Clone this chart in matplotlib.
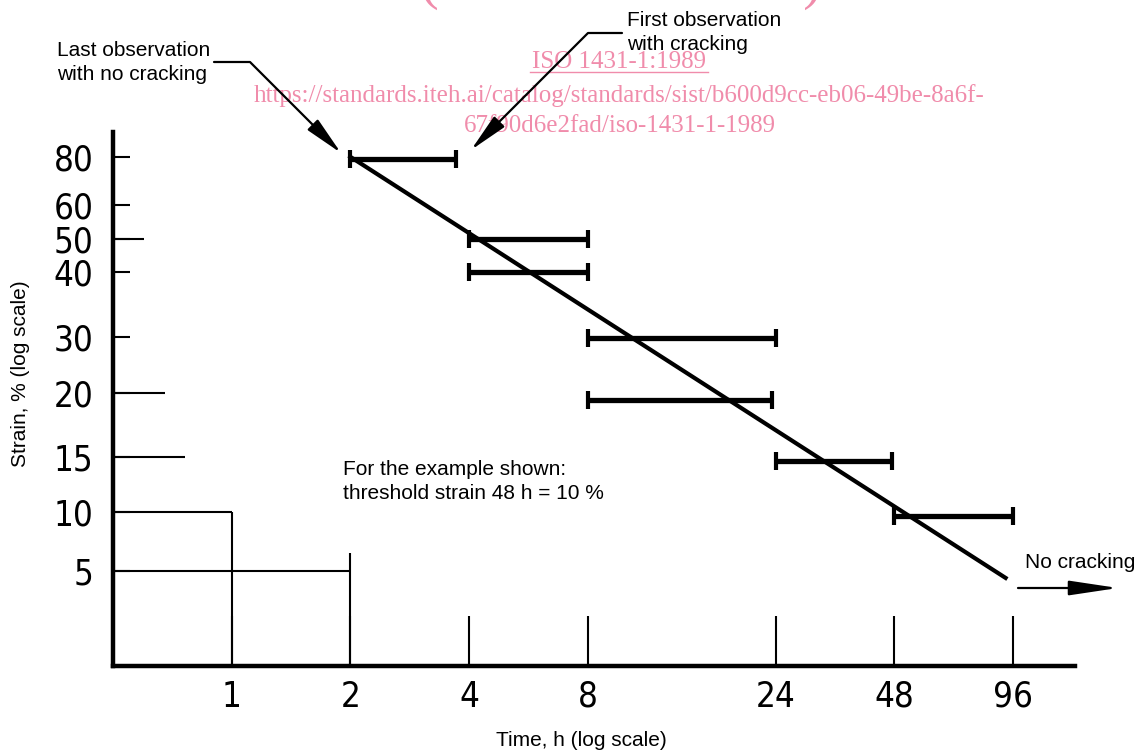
import numpy as np
import matplotlib.pyplot as plt
from matplotlib.ticker import NullLocator
from matplotlib.lines import Line2D

# observation intervals (strain %, time from - to, h)
bar_strain = [79, 50, 40, 29.7, 19.4, 14.6, 9.5]
bar_t_start = [2, 4, 4, 8, 8, 24, 48]
bar_t_end = [3.7, 8, 8, 24, 23.5, 47.5, 96]

# fitted threshold line
fit_time = [2, 92]
fit_strain = [80, 4.6]

# axis ticks
x_ticks = [1, 2, 4, 8, 24, 48, 96]
x_labels = ['1', '2', '4', '8', '24', '48', '96']
y_ticks = [5, 10, 15, 20, 30, 40, 50, 60, 80]
y_labels = ['5', '10', '15', '20', '30', '40', '50', '60', '80']

# guide lines on the strain axis (strain, time where the line stops)
guide_strain = [50, 20, 15, 10, 5]
guide_t_end = [0.6, 0.676, 0.76, 1, 2]
# guide lines rising from the time axis (time, strain where they stop)
vguide_t = [1, 2]
vguide_top = [10, 6.2]

# the drawing's strain scale is only roughly logarithmic: calibrate it on its ticks
scale_strain = [1.6, 5, 10, 15, 20, 30, 40, 50, 60, 80, 100]
scale_height = [0, 95, 154, 209, 273, 329, 394, 427, 461, 509, 546]


def fwd(v):
    v = np.clip(np.asarray(v, dtype=float), 1e-6, None)
    return np.interp(np.log10(v), np.log10(scale_strain), scale_height)


def inv(h):
    return 10 ** np.interp(h, scale_height, np.log10(scale_strain))


W, H = 1137, 752
fig = plt.figure(figsize=(W / 100, H / 100), dpi=100)
ax = fig.add_axes([113 / W, 86 / H, 962 / W, 534 / H])
ax.patch.set_visible(False)

ax.set_xscale('log', base=2)
ax.set_yscale('function', functions=(fwd, inv))
ax.set_xlim(0.5, 138)
ax.set_ylim(1.6, 92.9)

for s in ['top', 'right']:
    ax.spines[s].set_visible(False)
for s in ['left', 'bottom']:
    ax.spines[s].set_linewidth(3.2)
    ax.spines[s].set_capstyle('projecting')

tick_font = dict(family='DejaVu Sans', stretch='condensed', size=25)
ax.set_xticks(x_ticks)
ax.set_xticklabels(x_labels, **tick_font)
ax.set_yticks(y_ticks)
ax.set_yticklabels(y_labels, **tick_font)
ax.xaxis.set_minor_locator(NullLocator())
ax.yaxis.set_minor_locator(NullLocator())
ax.tick_params(axis='x', direction='in', length=36, width=1.5, pad=10)
ax.tick_params(axis='y', direction='in', length=12, width=1.5, pad=14)

# guides
ax.hlines(guide_strain, 0.5, guide_t_end, color='black', lw=1.5)
ax.vlines(vguide_t, 1.6, vguide_top, color='black', lw=1.5)

# observation intervals with end caps
ax.hlines(bar_strain, bar_t_start, bar_t_end, color='black', lw=3.8)
for s, a, b in zip(bar_strain, bar_t_start, bar_t_end):
    ax.plot([a, b], [s, s], ls='none', marker='|', ms=13, mew=3, color='black')

# threshold line
ax.plot(fit_time, fit_strain, color='black', lw=3)

lab_font = dict(family=['Liberation Sans', 'DejaVu Sans'], size=15)
fp = 'figure pixels'

ax.annotate('', xy=(341, H - 153), xycoords=fp, xytext=(214, H - 62), textcoords=fp,
            arrowprops=dict(arrowstyle='-|>,head_length=2.4,head_width=0.45', color='black',
                            lw=1.6, shrinkA=0, shrinkB=0, mutation_scale=10,
                            connectionstyle='angle,angleA=0,angleB=135,rad=0'))
ax.annotate('', xy=(471, H - 150), xycoords=fp, xytext=(622, H - 33), textcoords=fp,
            arrowprops=dict(arrowstyle='-|>,head_length=2.4,head_width=0.45', color='black',
                            lw=1.6, shrinkA=0, shrinkB=0, mutation_scale=10,
                            connectionstyle='angle,angleA=180,angleB=45,rad=0'))
ax.annotate('', xy=(1118, H - 588), xycoords=fp, xytext=(1018, H - 588), textcoords=fp,
            arrowprops=dict(arrowstyle='-|>,head_length=3.0,head_width=0.45', color='black',
                            lw=1.6, shrinkA=0, shrinkB=0, mutation_scale=10))

fig.text(57 / W, 1 - 41 / H, 'Last observation\nwith no cracking', va='top', ha='left',
         linespacing=1.32, **lab_font)
fig.text(627 / W, 1 - 11 / H, 'First observation\nwith cracking', va='top', ha='left',
         linespacing=1.32, **lab_font)
fig.text(343 / W, 1 - 460 / H, 'For the example shown:\nthreshold strain 48 h = 10 %',
         va='top', ha='left', linespacing=1.32, **lab_font)
fig.text(1025 / W, 1 - 563 / H, 'No cracking', va='center', ha='left', **lab_font)
fig.text(20 / W, 1 - 374 / H, 'Strain, % (log scale)', rotation=90, va='center', ha='center',
         **lab_font)
fig.text(581 / W, 1 - 741 / H, 'Time, h (log scale)', va='center', ha='center', **lab_font)

# watermark of the scanned page
pink = '#f08cab'
wm_font = dict(family=['Liberation Serif', 'DejaVu Serif'], color=pink, zorder=-1)
fig.text(621 / W, 1 + 2 / H, '(standards.iteh.ai)', ha='center', va='baseline', size=40.5, **wm_font)
fig.text(619 / W, 1 - 68 / H, 'ISO 1431-1:1989', ha='center', va='baseline', size=18, **wm_font)
fig.add_artist(Line2D([530 / W, 708 / W], [1 - 72 / H, 1 - 72 / H], color=pink, lw=1, zorder=-1))
fig.text(619 / W, 1 - 102 / H, 'https://standards.iteh.ai/catalog/standards/sist/b600d9cc-eb06-49be-8a6f-',
         ha='center', va='baseline', size=18, **wm_font)
fig.text(620 / W, 1 - 132 / H, '67f90d6e2fad/iso-1431-1-1989', ha='center', va='baseline',
         size=18, **wm_font)

fig.savefig('out.png', dpi=100)
